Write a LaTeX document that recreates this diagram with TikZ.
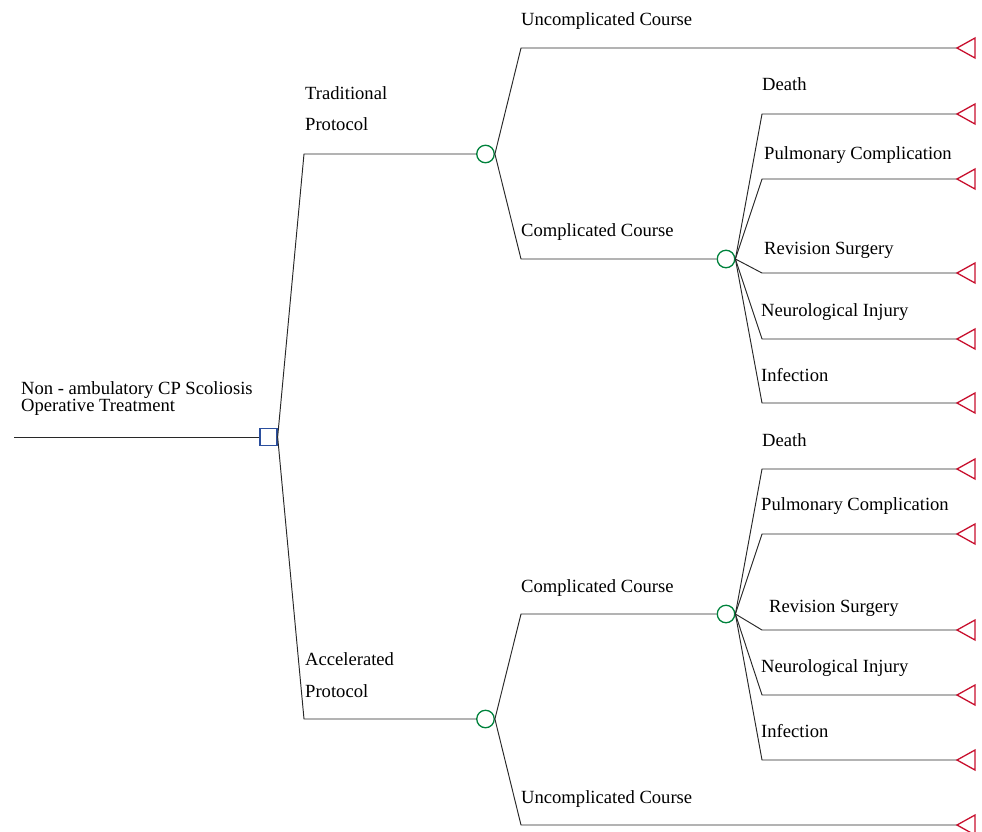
\documentclass[tikz,border=0pt]{standalone}
\usepackage{fontspec}
\setmainfont{Liberation Serif}
\definecolor{chgreen}{RGB}{0,130,60}
\definecolor{termred}{RGB}{200,16,46}
\definecolor{decblue}{RGB}{43,79,158}
\definecolor{linegray}{RGB}{40,40,40}
\begin{document}
\begin{tikzpicture}[x=1pt,y=-1pt,
  lbl/.style={inner sep=0pt,anchor=base west,font=\fontsize{18.6}{16}\selectfont},
  branch/.style={draw=linegray,line width=0.95pt},
  chance/.style={circle,draw=chgreen,line width=1.3pt,minimum size=17.5pt,inner sep=0pt},
  decision/.style={rectangle,draw=decblue,line width=1.3pt,minimum size=17pt,inner sep=0pt},
  term/.style={draw=termred,line width=1.3pt}]
\useasboundingbox (0,0) rectangle (982,831);

% nodes
\coordinate (root) at (14,437);
\node[decision] (dec) at (268.5,437) {};
\coordinate (a1) at (304,154);
\coordinate (a2) at (304,719);
\node[chance] (c1) at (485.5,154) {};
\node[chance] (c3) at (485.5,719) {};
\coordinate (b1) at (521,48);
\coordinate (b2) at (521,259);
\coordinate (b3) at (521,614);
\coordinate (b4) at (521,825);
\node[chance] (c2) at (726,259) {};
\node[chance] (c4) at (726,614) {};

% corners for complication outcomes
\coordinate (d1) at (762,114);
\coordinate (d2) at (762,179);
\coordinate (d3) at (762,273);
\coordinate (d4) at (762,339);
\coordinate (d5) at (762,403);
\coordinate (e1) at (762,469);
\coordinate (e2) at (762,534);
\coordinate (e3) at (762,630);
\coordinate (e4) at (762,695);
\coordinate (e5) at (762,760);

% terminal tips
\coordinate (tu1) at (957,48);
\coordinate (tu2) at (957,825);
\coordinate (t1) at (957,114);
\coordinate (t2) at (957,179);
\coordinate (t3) at (957,273);
\coordinate (t4) at (957,339);
\coordinate (t5) at (957,403);
\coordinate (s1) at (957,469);
\coordinate (s2) at (957,534);
\coordinate (s3) at (957,630);
\coordinate (s4) at (957,695);
\coordinate (s5) at (957,760);

% connectors
\draw[branch] (root) -- (dec.west);
\draw[branch] (dec.east) -- (a1) -- (c1.west);
\draw[branch] (dec.east) -- (a2) -- (c3.west);
\draw[branch] (c1.east) -- (b1) -- (tu1);
\draw[branch] (c1.east) -- (b2) -- (c2.west);
\draw[branch] (c3.east) -- (b3) -- (c4.west);
\draw[branch] (c3.east) -- (b4) -- (tu2);
\foreach \i in {1,...,5}{
  \draw[branch] (c2.east) -- (d\i) -- (t\i);
  \draw[branch] (c4.east) -- (e\i) -- (s\i);
}

% terminal triangles
\foreach \p in {tu1,tu2,t1,t2,t3,t4,t5,s1,s2,s3,s4,s5}{
  \draw[term] (\p) -- ++(18,-10) -- ++(0,20) -- cycle;
}

% labels
\node[lbl] (l0a) at (21,394) {Non - ambulatory CP Scoliosis};
\node[lbl] (l0b) at (21,411) {Operative Treatment};
\node[lbl] (l1a) at (305,99) {Traditional};
\node[lbl] (l1b) at (305,130) {Protocol};
\node[lbl] (l2a) at (305,665) {Accelerated};
\node[lbl] (l2b) at (305,697) {Protocol};
\node[lbl] (lu1) at (521,25) {Uncomplicated Course};
\node[lbl] (lc1) at (521,236) {Complicated Course};
\node[lbl] (lc2) at (521,592) {Complicated Course};
\node[lbl] (lu2) at (521,803) {Uncomplicated Course};
\node[lbl] (m1) at (762,90) {Death};
\node[lbl] (m2) at (764,159) {Pulmonary Complication};
\node[lbl] (m3) at (764,254) {Revision Surgery};
\node[lbl] (m4) at (761,316) {Neurological Injury};
\node[lbl] (m5) at (761,381) {Infection};
\node[lbl] (n1) at (762,446) {Death};
\node[lbl] (n2) at (761,510) {Pulmonary Complication};
\node[lbl] (n3) at (769,612) {Revision Surgery};
\node[lbl] (n4) at (761,672) {Neurological Injury};
\node[lbl] (n5) at (761,737) {Infection};
\end{tikzpicture}
\end{document}
